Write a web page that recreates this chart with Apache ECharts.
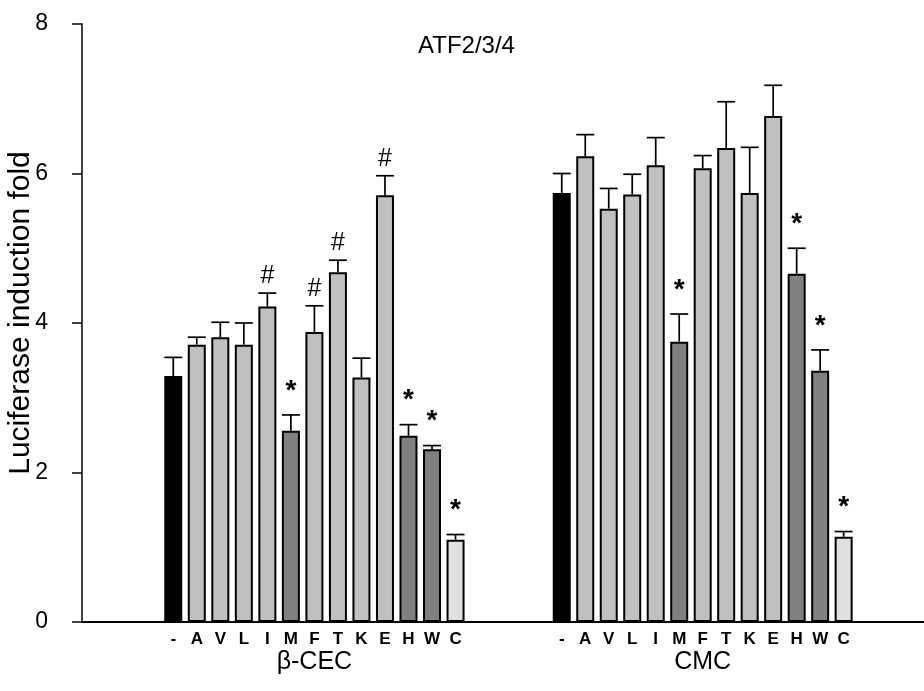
<!DOCTYPE html>
<html>
<head>
<meta charset="utf-8">
<script src="https://cdn.jsdelivr.net/npm/echarts@6/dist/echarts.min.js"></script>
<style>html,body{margin:0;padding:0;background:#fff}#chart{width:924px;height:691px}</style>
</head>
<body>
<div id="chart"></div>
<script>
const categories = ['-','A','V','L','I','M','F','T','K','E','H','W','C'];
const groupNames = ['β-CEC','CMC'];
const cecValues = [3.29,3.71,3.81,3.71,4.22,2.56,3.88,4.68,3.27,5.71,2.49,2.31,1.10];
const cecErrors = [0.25,0.10,0.20,0.29,0.18,0.21,0.35,0.16,0.26,0.26,0.15,0.05,0.07];
const cmcValues = [5.74,6.23,5.53,5.72,6.11,3.75,6.07,6.34,5.74,6.77,4.66,3.36,1.14];
const cmcErrors = [0.26,0.29,0.27,0.27,0.37,0.37,0.17,0.62,0.61,0.41,0.34,0.28,0.07];
const cecMarks = ['','','','','#','*','#','#','','#','*','*','*'];
const cmcMarks = ['','','','','','*','','','','','*','*','*'];
const barColors = ['#000000','#c0c0c0','#c0c0c0','#c0c0c0','#c0c0c0','#808080','#c0c0c0','#c0c0c0','#c0c0c0','#c0c0c0','#808080','#808080','#e0e0e0'];
const yTicks = [0,2,4,6,8];
const titleText = 'ATF2/3/4';
const yName = 'Luciferase induction fold';

const FONT = '"Liberation Sans", Arial, Helvetica, sans-serif';
const yMin = yTicks[0], yMax = yTicks[yTicks.length-1], yStep = yTicks[1]-yTicks[0];

function barSeries(values, idx) {
  return {
    type: 'bar', xAxisIndex: idx, yAxisIndex: idx,
    barWidth: 18,
    data: values.map((v, i) => ({ value: v, itemStyle: { color: barColors[i] } })),
    itemStyle: { borderColor: '#000', borderWidth: 2 },
    silent: true, animation: false
  };
}
function errSeries(values, errors, marks, idx) {
  return {
    type: 'custom', xAxisIndex: idx, yAxisIndex: idx, z: 5,
    data: values.map((v, i) => [i, v, v + errors[i]]),
    renderItem: function (params, api) {
      const i = api.value(0);
      const base = api.coord([i, api.value(1)]);
      const top = api.coord([i, api.value(2)]);
      const mark = marks[i];
      const children = [
        { type: 'line', shape: { x1: base[0], y1: base[1], x2: top[0], y2: top[1] }, style: { stroke: '#000', lineWidth: 1.7 } },
        { type: 'line', shape: { x1: top[0] - 9, y1: top[1], x2: top[0] + 9, y2: top[1] }, style: { stroke: '#000', lineWidth: 1.7 } }
      ];
      if (mark === '*') {
        children.push({
          type: 'text', x: top[0], y: top[1] - 24,
          style: { text: mark, align: 'center', verticalAlign: 'middle', fontSize: 28, fontWeight: 'bold', fontFamily: FONT, fill: '#000' }
        });
      } else if (mark) {
        children.push({
          type: 'text', x: top[0], y: top[1] - 17,
          style: { text: mark, align: 'center', verticalAlign: 'middle', fontSize: 25, fontFamily: FONT, fill: '#000' }
        });
      }
      return { type: 'group', children: children };
    },
    silent: true, animation: false
  };
}

const chart = echarts.init(document.getElementById('chart'));
const TOP = 24, BOTTOM = 69;
function catAxis(gi, name) {
  return { gridIndex: gi, type: 'category', data: categories, axisLine: { show: false }, axisTick: { show: false },
    axisLabel: { fontSize: 17, fontWeight: 'bold', color: '#000', fontFamily: FONT, margin: 9, interval: 0 },
    name: name, nameLocation: 'middle', nameGap: 28, nameMoveOverlap: false,
    nameTextStyle: { fontSize: 25, color: '#000', fontFamily: FONT } };
}
chart.setOption({
  backgroundColor: '#fff',
  animation: false,
  title: { text: titleText, left: 418, top: 34, padding: 0, textStyle: { fontSize: 24, fontWeight: 'normal', color: '#000', fontFamily: FONT } },
  grid: [
    { left: 82, right: 0, top: TOP, bottom: BOTTOM, containLabel: false, outerBoundsMode: 'none' },
    { left: 161.5, width: 305.8, top: TOP, bottom: BOTTOM, containLabel: false, outerBoundsMode: 'none' },
    { left: 550, width: 305.4, top: TOP, bottom: BOTTOM, containLabel: false, outerBoundsMode: 'none' }
  ],
  xAxis: [
    { gridIndex: 0, type: 'value', min: 0, max: 1, axisLine: { show: true, lineStyle: { color: '#000', width: 2 } }, axisTick: { show: false }, axisLabel: { show: false }, splitLine: { show: false } },
    catAxis(1, groupNames[0]),
    catAxis(2, groupNames[1])
  ],
  yAxis: [
    { gridIndex: 0, type: 'value', min: yMin, max: yMax, interval: yStep,
      axisLine: { show: true, lineStyle: { color: '#000', width: 1.5 } },
      axisTick: { show: true, length: 10, lineStyle: { color: '#000', width: 1.5 } },
      axisLabel: { fontSize: 23, color: '#000', fontFamily: FONT, margin: 34 },
      splitLine: { show: false },
      name: yName, nameLocation: 'middle', nameGap: 46, nameMoveOverlap: false,
      nameTextStyle: { fontSize: 30, color: '#000', fontFamily: FONT, padding: [0, 0, 0, 20] } },
    { gridIndex: 1, type: 'value', min: yMin, max: yMax, show: false },
    { gridIndex: 2, type: 'value', min: yMin, max: yMax, show: false }
  ],
  series: [
    barSeries(cecValues, 1), errSeries(cecValues, cecErrors, cecMarks, 1),
    barSeries(cmcValues, 2), errSeries(cmcValues, cmcErrors, cmcMarks, 2)
  ]
});
</script>
</body>
</html>
